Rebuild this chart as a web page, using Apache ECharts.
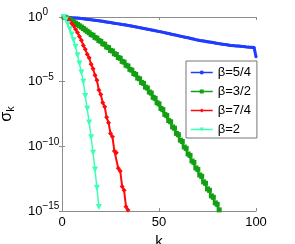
<!DOCTYPE html>
<html><head><meta charset="utf-8">
<script src="https://cdn.jsdelivr.net/npm/echarts@6/dist/echarts.min.js"></script>
<style>html,body{margin:0;padding:0;background:#fff}#c{width:295px;height:244px}</style>
</head><body><div id="c"></div>
<script>
const seriesNames = ['β=5/4', 'β=3/2', 'β=7/4', 'β=2'];
const xTicks = [0, 50, 100];
const yTickExponents = [0, -5, -10, -15];
// log10(sigma_k), k = 1, 2, 3, ...
const logBlue = [0,-0.01,-0.02,-0.04,-0.05,-0.06,-0.07,-0.08,-0.1,-0.11,
  -0.13,-0.15,-0.17,-0.19,-0.21,-0.23,-0.25,-0.27,-0.29,-0.31,
  -0.33,-0.36,-0.38,-0.41,-0.43,-0.46,-0.48,-0.5,-0.53,-0.55,
  -0.58,-0.6,-0.62,-0.65,-0.67,-0.7,-0.73,-0.76,-0.79,-0.82,
  -0.85,-0.88,-0.91,-0.94,-0.97,-1.0,-1.03,-1.06,-1.09,-1.12,
  -1.15,-1.18,-1.21,-1.25,-1.28,-1.31,-1.35,-1.38,-1.41,-1.45,
  -1.48,-1.51,-1.55,-1.58,-1.61,-1.65,-1.68,-1.71,-1.75,-1.78,
  -1.81,-1.83,-1.86,-1.88,-1.91,-1.93,-1.96,-1.98,-2.01,-2.03,
  -2.06,-2.08,-2.11,-2.13,-2.15,-2.18,-2.2,-2.21,-2.23,-2.24,
  -2.25,-2.27,-2.28,-2.29,-2.31,-2.32,-2.33,-2.34,-2.35,-3.07];
const logGreen = [0,-0.05,-0.12,-0.2,-0.29,-0.38,-0.48,-0.58,-0.68,-0.78,
  -0.89,-1.0,-1.11,-1.22,-1.36,-1.41,-1.58,-1.64,-1.82,-1.88,
  -2.07,-2.11,-2.32,-2.37,-2.58,-2.63,-2.84,-2.9,-3.13,-3.19,
  -3.43,-3.49,-3.73,-3.79,-4.05,-4.11,-4.37,-4.44,-4.72,-4.78,
  -5.06,-5.13,-5.42,-5.49,-5.8,-5.88,-6.21,-6.29,-6.63,-6.72,
  -7.07,-7.16,-7.53,-7.62,-8.01,-8.1,-8.5,-8.6,-9.0,-9.1,
  -9.52,-9.62,-10.05,-10.16,-10.59,-10.7,-11.13,-11.24,-11.67,-11.78,
  -12.21,-12.32,-12.75,-12.86,-13.29,-13.4,-13.83,-13.94,-14.37,-14.48,
  -14.91];
const logRed = [0,-0.05,-0.12,-0.3,-0.5,-0.7,-0.95,-1.2,-1.5,-1.8,
  -2.2,-2.5,-2.88,-3.15,-3.65,-4.0,-4.5,-4.9,-5.65,-6.0,
  -6.63,-6.93,-7.76,-8.18,-9.0,-9.26,-10.36,-10.49,-11.7,-11.9,
  -13.1,-13.4,-14.67,-14.93];
const logCyan = [0,-0.2,-0.55,-0.95,-1.35,-1.8,-2.3,-2.95,-3.6,-4.3,
  -5.0,-6.1,-7.1,-8.15,-9.3,-10.5,-11.8,-13.2,-14.7];

const toData = arr => arr.map((v, i) => [i + 1, Math.pow(10, v)]);
const font = '"Liberation Sans", Arial, sans-serif';
const axisCol = '#8c8c8c';

const chart = echarts.init(document.getElementById('c'), null, {renderer: 'canvas'});
const supFmt = v => {
  const e = Math.round(Math.log10(v));
  if (!yTickExponents.includes(e)) return '';
  return '10{sup|' + (e < 0 ? '\u2212' + (-e) : e) + '}';
};
const mkSeries = (name, arr, color, lw, sym, size, rot) => ({
  name, type: 'line', data: toData(arr), color,
  lineStyle: {width: lw, color}, itemStyle: {color},
  symbol: sym, symbolSize: size, symbolRotate: rot || 0,
  showSymbol: true, animation: false, z: 3
});
chart.setOption({
  animation: false,
  grid: {left: 62, top: 17, width: 194, height: 194, outerBoundsMode: 'none', containLabel: false},
  legend: {
    left: 186, top: 61, orient: 'vertical',
    data: seriesNames,
    backgroundColor: '#fff', borderColor: '#777', borderWidth: 1,
    padding: [4, 6, 1, 4], itemGap: 4, itemWidth: 22, itemHeight: 5,
    textStyle: {fontFamily: font, fontSize: 13, color: '#000', lineHeight: 15},
    lineStyle: {width: 1.5}
  },
  xAxis: [{
    type: 'value', min: xTicks[0], max: xTicks[2], interval: 50,
    name: 'k', nameLocation: 'middle', nameGap: 17,
    nameTextStyle: {fontFamily: font, fontSize: 15, color: '#000'},
    axisLine: {lineStyle: {color: axisCol, width: 1}},
    axisTick: {inside: true, length: 3, lineStyle: {color: axisCol}},
    axisLabel: {fontFamily: font, fontSize: 13, color: '#000', margin: 5},
    splitLine: {show: false}
  }, {
    type: 'value', position: 'top', min: 0, max: 100, interval: 50,
    axisLine: {show: true, lineStyle: {color: axisCol}},
    axisTick: {inside: true, length: 3, lineStyle: {color: axisCol}},
    axisLabel: {show: false}, splitLine: {show: false}
  }],
  yAxis: [{
    type: 'log', logBase: 10, min: 1e-15, max: 1, interval: 5,
    name: 'σ{sub|k}', nameLocation: 'middle', nameGap: 46, nameRotate: 90,
    nameTextStyle: {fontFamily: font, fontSize: 16, color: '#000',
      rich: {sub: {fontFamily: font, fontSize: 11, color: '#000', padding: [8, 0, 0, 0]}}},
    axisLine: {lineStyle: {color: axisCol, width: 1}},
    axisTick: {inside: true, length: 3, lineStyle: {color: axisCol}},
    axisLabel: {
      fontFamily: font, fontSize: 13, color: '#000', align: 'left', margin: 34,
      formatter: supFmt,
      rich: {sup: {fontFamily: font, fontSize: 10, color: '#000', padding: [0, 0, 9, 0]}}
    },
    splitLine: {show: false}, minorTick: {show: false}
  }, {
    type: 'log', logBase: 10, min: 1e-15, max: 1, interval: 5, position: 'right',
    axisLine: {show: true, lineStyle: {color: axisCol}},
    axisTick: {inside: true, length: 3, lineStyle: {color: axisCol}},
    axisLabel: {show: false}, splitLine: {show: false}
  }],
  series: [
    mkSeries(seriesNames[0], logBlue, '#1f3cff', 3, 'circle', 3),
    mkSeries(seriesNames[1], logGreen, '#12a012', 2, 'rect', 5),
    mkSeries(seriesNames[2], logRed, '#ff0a0a', 2, 'diamond', 5),
    mkSeries(seriesNames[3], logCyan, '#3dffb5', 1.5, 'triangle', 6, 180)
  ]
});
</script></body></html>
